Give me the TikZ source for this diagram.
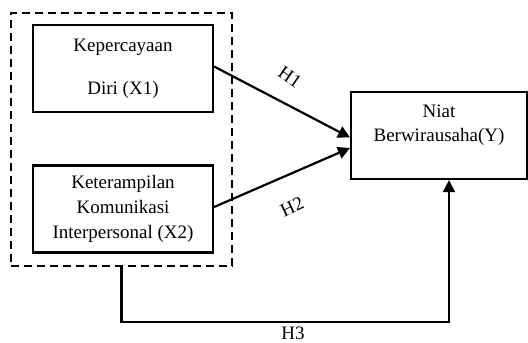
\documentclass[tikz,border=0pt]{standalone}
\usepackage{fontspec}
\setmainfont{Liberation Serif}
\usetikzlibrary{arrows.meta}
\begin{document}
\begin{tikzpicture}[x=1pt,y=-1pt,
  box/.style={draw,line width=2.2pt,minimum width=180pt,minimum height=87pt,inner sep=0pt,align=center,font=\fontsize{19}{25}\selectfont},
  grpbox/.style={draw,line width=1.5pt,dash pattern=on 8pt off 5pt,minimum width=221pt,minimum height=253pt,inner sep=0pt},
  conn/.style={line width=2.2pt},
  arr/.style={conn,-{Triangle[length=12pt,width=12pt]}},
  hlab/.style={font=\fontsize{19}{20}\selectfont,inner sep=0pt}]
\useasboundingbox (0,0) rectangle (528,343);
\node[grpbox] (grp) at (121.5,139.5) {};
\node[box] (b1) at (123,68.5) {Kepercayaan\\[18pt]Diri (X1)};
\node[box] (b2) at (123,209) {Keterampilan\\Komunikasi\\Interpersonal (X2)};
\node[box,minimum width=176pt,
  label={[anchor=north,align=center,font=\fontsize{19}{24}\selectfont,yshift=-10pt]north:Niat\\Berwirausaha(Y)}] (y) at (439,135.5) {};
\coordinate (t1) at (350,137.5);
\coordinate (t2) at (350,148);
\coordinate (h3) at (449,322);
\draw[arr] (b1.east) ++(0,-2) -- (t1);
\draw[arr] (b2.east) ++(0,-2) -- (t2);
\draw[arr] (grp.south) |- (h3) -- (y.south -| h3);
\node[hlab,rotate=-35] (l1) at (290,77) {H1};
\node[hlab,rotate=25] (l2) at (292,207) {H2};
\node[hlab] (l3) at (293,333) {H3};
\end{tikzpicture}
\end{document}
